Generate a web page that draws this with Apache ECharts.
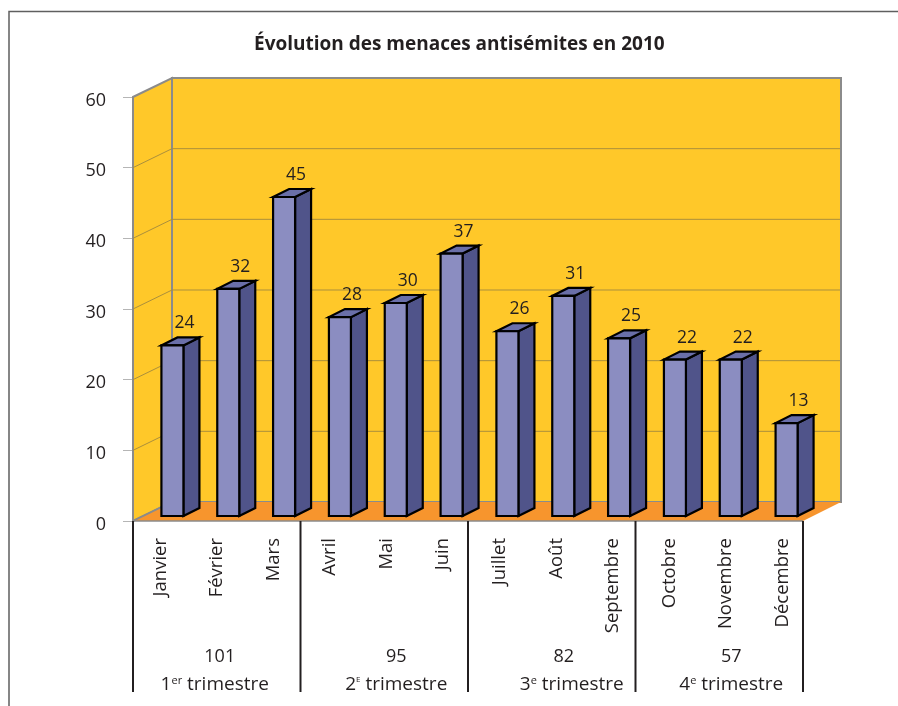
<!DOCTYPE html>
<html>
<head>
<meta charset="utf-8">
<style>
html, body { margin: 0; padding: 0; background: #fff; }
#chart { width: 898px; height: 706px; }
</style>
<script src="https://cdn.jsdelivr.net/npm/echarts@6/dist/echarts.min.js"></script>
</head>
<body>
<div id="chart"></div>
<script>
const months = ['Janvier', 'Février', 'Mars', 'Avril', 'Mai', 'Juin', 'Juillet', 'Août', 'Septembre', 'Octobre', 'Novembre', 'Décembre'];
const monthValues = [24, 32, 45, 28, 30, 37, 26, 31, 25, 22, 22, 13];
const quarterTotals = [101, 95, 82, 57];
const quarterNumbers = ['1', '2', '3', '4'];
const quarterSuffixes = ['er', 'E', 'e', 'e'];
const yTicks = [0, 10, 20, 30, 40, 50, 60];

const FONT = '"Open Sans", "Noto Sans", sans-serif';
const INK = '#231f20';
// profondeur du faux 3D
const DEPTH_X = 39, DEPTH_Y = -19;
const BAR_W = 22, BAR_DX = 16, BAR_DY = -8, BAR_SHIFT_X = 11.5, BAR_SHIFT_Y = -5;
// decalages des libelles de trimestre par rapport au milieu du trimestre
const totalNudge = [3, 12, 12, 12];
const nameNudge = [-2, 12, 20, 12];

const chart = echarts.init(document.getElementById('chart'));

function renderWalls(params, api) {
    const cs = params.coordSys;
    const x0 = cs.x, x1 = cs.x + cs.width;
    const yb = api.coord([0, 0])[1], yt = api.coord([0, 60])[1];
    const gray = '#8b8b8b';
    return {
        type: 'group',
        children: [
            {
                type: 'polygon',
                shape: { points: [[x0, yb], [x0 + DEPTH_X, yb + DEPTH_Y], [x0 + DEPTH_X, yt + DEPTH_Y], [x0, yt]] },
                style: { fill: '#ffc829', stroke: gray, lineWidth: 2 }
            },
            {
                type: 'rect',
                shape: { x: x0 + DEPTH_X, y: yt + DEPTH_Y, width: cs.width - 1, height: yb - yt },
                style: { fill: '#ffc829', stroke: gray, lineWidth: 2 }
            },
            {
                type: 'polygon',
                shape: { points: [[x0, yb], [x1, yb], [x1 + DEPTH_X - 1, yb + DEPTH_Y], [x0 + DEPTH_X, yb + DEPTH_Y]] },
                style: { fill: '#f7952d' }
            },
            {
                type: 'line',
                shape: { x1: x0, y1: yb, x2: x0 + DEPTH_X, y2: yb + DEPTH_Y },
                style: { stroke: gray, lineWidth: 1.5 }
            },
            {
                type: 'line',
                shape: { x1: x0, y1: yb, x2: x1, y2: yb },
                style: { stroke: gray, lineWidth: 1.5 }
            }
        ]
    };
}

function renderGridLine(params, api) {
    const cs = params.coordSys;
    const y = api.coord([0, api.value(1)])[1];
    const x0 = cs.x;
    return {
        type: 'polyline',
        shape: { points: [[x0, y], [x0 + DEPTH_X, y + DEPTH_Y], [x0 + cs.width + DEPTH_X - 2, y + DEPTH_Y]] },
        style: { fill: 'none', stroke: '#ab8f3c', lineWidth: 1 }
    };
}

function renderBar(params, api) {
    const i = api.value(0), v = api.value(1);
    const cx = api.coord([i, 0])[0] + BAR_SHIFT_X;
    const yb = api.coord([i, 0])[1] + BAR_SHIFT_Y;
    const yt = api.coord([i, v])[1] + BAR_SHIFT_Y - 1;
    const l = cx - BAR_W / 2, r = cx + BAR_W / 2;
    const edge = { stroke: '#000', lineWidth: 2.2, lineJoin: 'miter' };
    return {
        type: 'group',
        children: [
            {
                type: 'polygon',
                shape: { points: [[r, yb], [r + BAR_DX, yb + BAR_DY], [r + BAR_DX, yt + BAR_DY], [r, yt]] },
                style: Object.assign({ fill: '#50548a' }, edge)
            },
            {
                type: 'polygon',
                shape: { points: [[l, yt], [r, yt], [r + BAR_DX, yt + BAR_DY], [l + BAR_DX, yt + BAR_DY]] },
                style: Object.assign({ fill: '#6a6fa9' }, edge)
            },
            {
                type: 'rect',
                shape: { x: l, y: yt, width: BAR_W, height: yb - yt },
                style: Object.assign({ fill: '#8b8dc1' }, edge)
            },
            {
                type: 'text',
                style: {
                    x: cx + 12, y: yt - 22, text: String(v), fill: INK,
                    font: '17.5px ' + FONT, align: 'center', verticalAlign: 'middle'
                }
            }
        ]
    };
}

function renderQuarter(params, api) {
    const q = params.dataIndex;
    const first = api.value(0);
    const band = api.size([1, 0])[0];
    const yb = api.coord([0, 0])[1];
    const left = api.coord([first, 0])[0] - band / 2;
    const mid = left + band * 1.5;
    const sep = (x) => ({
        type: 'line',
        shape: { x1: x, y1: yb, x2: x, y2: 692 },
        style: { stroke: INK, lineWidth: 2 }
    });
    const children = [
        sep(left),
        {
            type: 'text',
            style: {
                x: mid + totalNudge[q], y: 657, text: String(quarterTotals[q]), fill: INK,
                font: '18px ' + FONT, align: 'center', verticalAlign: 'middle'
            }
        },
        {
            type: 'text',
            style: {
                x: mid + nameNudge[q], y: 685,
                text: '{n|' + quarterNumbers[q] + '}{s|' + quarterSuffixes[q] + '}{n| trimestre}',
                fill: INK, align: 'center', verticalAlign: 'middle',
                rich: {
                    n: { font: '19px ' + FONT, fill: INK },
                    s: { font: (quarterSuffixes[q] === 'E' ? '8px ' : '11px ') + FONT, fill: INK, verticalAlign: 'top' }
                }
            }
        }
    ];
    if (q === quarterTotals.length - 1) {
        children.push(sep(left + band * 3));
    }
    return { type: 'group', children: children };
}

chart.setOption({
    animation: false,
    backgroundColor: '#fff',
    title: {
        text: 'Évolution des menaces antisémites en 2010',
        left: 249,
        top: 30,
        textStyle: { fontFamily: FONT, fontSize: 19, fontWeight: 'bold', color: INK }
    },
    graphic: [{
        type: 'polyline',
        silent: true,
        shape: { points: [[9, 706], [9, 11.5], [898, 11.5]] },
        style: { fill: 'none', stroke: '#5f5f5f', lineWidth: 1.5 }
    }],
    // la seconde grille ne porte que les libelles : mois un peu plus espaces que les barres, chiffres un peu plus bas que les graduations
    grid: [
        { left: 133, top: 97, width: 670, height: 424 },
        { left: 132, top: 100.5, width: 679, height: 424 }
    ],
    xAxis: [
        {
            type: 'category',
            data: months,
            axisLine: { show: false },
            axisTick: { show: false },
            axisLabel: { show: false }
        },
        {
            type: 'category',
            gridIndex: 1,
            data: months,
            axisLine: { show: false },
            axisTick: { show: false },
            axisLabel: {
                rotate: 90, interval: 0, margin: 13.5,
                fontFamily: FONT, fontSize: 18.5, color: INK
            }
        }
    ],
    yAxis: [
        {
            type: 'value',
            min: yTicks[0],
            max: yTicks[yTicks.length - 1],
            interval: 10,
            splitLine: { show: false },
            axisLine: { show: false },
            axisTick: { show: true, length: 10, lineStyle: { color: '#b5b5b5', width: 1 } },
            axisLabel: { show: false }
        },
        {
            type: 'value',
            gridIndex: 1,
            min: yTicks[0],
            max: yTicks[yTicks.length - 1],
            interval: 10,
            splitLine: { show: false },
            axisLine: { show: false },
            axisTick: { show: false },
            axisLabel: { margin: 26, fontFamily: FONT, fontSize: 18, color: INK }
        }
    ],
    series: [
        { type: 'custom', coordinateSystem: 'cartesian2d', renderItem: renderWalls, data: [[0, 0]], z: 1, silent: true },
        { type: 'custom', coordinateSystem: 'cartesian2d', renderItem: renderGridLine, data: yTicks.slice(1, -1).map(v => [0, v]), z: 2, silent: true },
        { type: 'custom', coordinateSystem: 'cartesian2d', renderItem: renderBar, data: monthValues.map((v, i) => [i, v]), z: 3 },
        { type: 'custom', coordinateSystem: 'cartesian2d', renderItem: renderQuarter, data: quarterTotals.map((t, i) => [i * 3, 0]), z: 3, silent: true }
    ]
});
</script>
</body>
</html>
